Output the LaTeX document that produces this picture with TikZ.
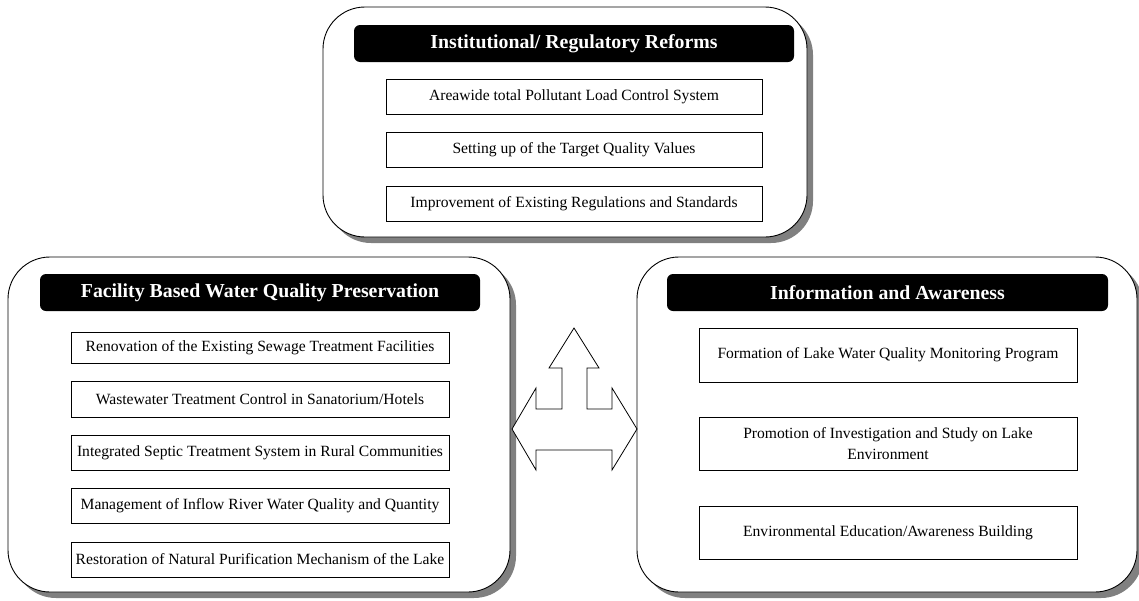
\documentclass[tikz,border=0pt]{standalone}
\usepackage{fontspec}
\setmainfont{Liberation Serif}
\usetikzlibrary{shadows}
\begin{document}
\begin{tikzpicture}[x=1pt,y=-1pt,
  bigbox/.style={draw=black, line width=0.9pt, fill=white, rounded corners=42pt,
    general shadow={fill=black!50, shadow xshift=6pt, shadow yshift=-6pt}},
  headbox/.style={fill=black, text=white, rounded corners=6pt, minimum height=37pt, inner sep=0pt,
    font=\bfseries\fontsize{19.8}{22}\selectfont},
  ibox/.style={draw=black, line width=0.8pt, fill=white, align=center,
    font=\fontsize{15.6}{21.5}\selectfont, inner sep=0pt},
  arrowshape/.style={draw=black, line width=0.8pt, fill=white, line join=miter}]
\useasboundingbox (0,0) rectangle (1139,600);
% big panels
\node[bigbox, minimum width=484pt, minimum height=230pt] (top) at (565,122) {};
\node[bigbox, minimum width=502pt, minimum height=335pt] (left) at (259,424.5) {};
\node[bigbox, minimum width=500pt, minimum height=335pt] (right) at (887,424.5) {};
% headers
\node[headbox, minimum width=440pt] (toph) at (574,43.5) {Institutional/ Regulatory Reforms};
\node[headbox, minimum width=440pt] (lefth) at (260,292.5) {Facility Based Water Quality Preservation};
\node[headbox, minimum width=441pt] (righth) at (887.5,292.5) {Information and Awareness};
% top items
\node[ibox, minimum width=376pt, minimum height=35pt] (t1) at (574,96.5) {Areawide total Pollutant Load Control System};
\node[ibox, minimum width=376pt, minimum height=35pt] (t2) at (574,150) {Setting up of the Target Quality Values};
\node[ibox, minimum width=376pt, minimum height=35pt] (t3) at (574,203.5) {Improvement of Existing Regulations and Standards};
% left items
\node[ibox, minimum width=378pt, minimum height=31pt] (l1) at (260,348) {Renovation of the Existing Sewage Treatment Facilities};
\node[ibox, minimum width=378pt, minimum height=36pt] (l2) at (260,399) {Wastewater Treatment Control in Sanatorium/Hotels};
\node[ibox, minimum width=378pt, minimum height=35pt] (l3) at (260,452.5) {Integrated Septic Treatment System in Rural Communities};
\node[ibox, minimum width=378pt, minimum height=35pt] (l4) at (260,505.5) {Management of Inflow River Water Quality and Quantity};
\node[ibox, minimum width=378pt, minimum height=35pt] (l5) at (260,559.5) {Restoration of Natural Purification Mechanism of the Lake};
% right items
\node[ibox, minimum width=378pt, minimum height=54pt] (r1) at (888,355) {Formation of Lake Water Quality Monitoring Program};
\node[ibox, minimum width=378pt, minimum height=53pt] (r2) at (888,443.5) {Promotion of Investigation and Study on Lake\\Environment};
\node[ibox, minimum width=378pt, minimum height=53pt] (r3) at (888,532.5) {Environmental Education/Awareness Building};
% three-way arrow
\draw[arrowshape] (512,429) -- (536,388) -- (536,409) -- (562,409) -- (562,368) -- (549,368)
  -- (574,328) -- (599,368) -- (587,368) -- (587,409) -- (612,409) -- (612,388)
  -- (637,429) -- (612,470) -- (612,450) -- (536,450) -- (536,470) -- cycle;
\end{tikzpicture}
\end{document}
